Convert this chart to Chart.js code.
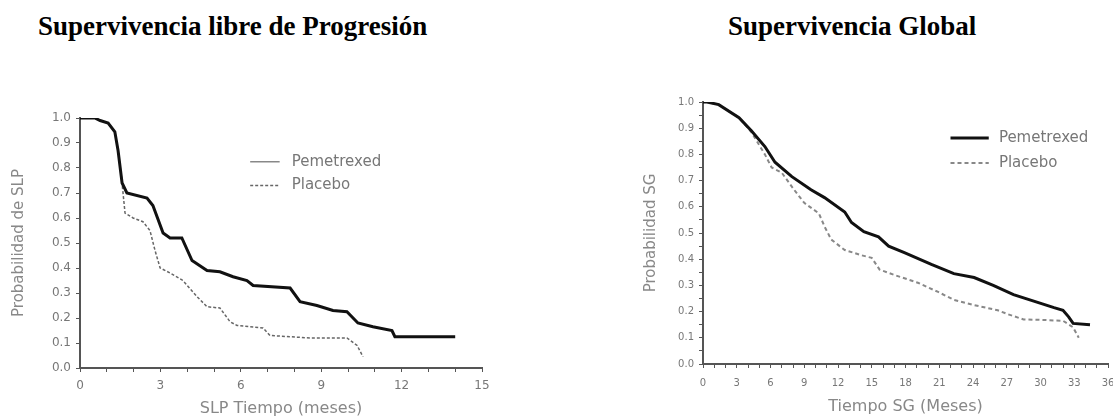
<!DOCTYPE html>
<html>
<head>
<meta charset="utf-8">
<script src="https://cdn.jsdelivr.net/npm/chart.js@4"></script>
<style>
  body { margin: 0; width: 1113px; height: 419px; background: #fff; position: relative; overflow: hidden; }
  .title { position: absolute; font-family: "Liberation Serif", "Times New Roman", serif; font-weight: bold;
           font-size: 27px; line-height: 27px; color: #000; white-space: nowrap; }
  canvas { position: absolute; }
</style>
</head>
<body>
<div class="title" style="left:38px; top:13px;">Supervivencia libre de Progresión</div>
<div class="title" style="left:728px; top:13px;">Supervivencia Global</div>
<canvas id="pfsChart" width="492" height="329" style="left:8px; top:90px;"></canvas>
<canvas id="osChart" width="473" height="339" style="left:640px; top:80px;"></canvas>
<script>
  // Supervivencia libre de progresion (meses, probabilidad)
  const pfsPemTime = [0, 0.55, 0.75, 1.05, 1.3, 1.42, 1.57, 1.75, 2.5, 2.72, 3.1, 3.36, 3.8, 4.18, 4.74, 5.22, 5.71, 6.23, 6.46, 7.84, 8.21, 8.84, 9.44, 9.96, 10.37, 10.93, 11.64, 11.75, 14.0];
  const pfsPem = [1.0, 1.0, 0.99, 0.98, 0.945, 0.87, 0.74, 0.70, 0.68, 0.65, 0.54, 0.52, 0.52, 0.43, 0.39, 0.385, 0.365, 0.35, 0.33, 0.32, 0.265, 0.25, 0.23, 0.225, 0.18, 0.165, 0.15, 0.125, 0.125];
  const pfsPlaTime = [0, 0.55, 0.75, 1.05, 1.3, 1.42, 1.55, 1.68, 1.98, 2.35, 2.61, 2.8, 2.99, 3.36, 3.84, 4.37, 4.74, 5.22, 5.6, 5.86, 6.83, 7.09, 8.58, 9.96, 10.34, 10.56];
  const pfsPla = [1.0, 1.0, 0.99, 0.98, 0.945, 0.87, 0.76, 0.62, 0.60, 0.585, 0.55, 0.47, 0.40, 0.38, 0.35, 0.285, 0.245, 0.24, 0.185, 0.17, 0.16, 0.13, 0.12, 0.12, 0.09, 0.045];

  // Supervivencia global
  const osPemTime = [0, 0.35, 1.4, 3.2, 4.3, 5.5, 6.4, 7.9, 9.6, 10.8, 12.6, 13.2, 14.3, 15.6, 16.5, 17.9, 20.3, 22.3, 24.1, 25.8, 27.6, 29.4, 31.2, 32.0, 32.5, 32.9, 34.4];
  const osPem = [1.0, 1.0, 0.99, 0.94, 0.89, 0.83, 0.77, 0.715, 0.665, 0.635, 0.58, 0.54, 0.505, 0.485, 0.45, 0.425, 0.38, 0.345, 0.33, 0.30, 0.265, 0.24, 0.215, 0.205, 0.18, 0.155, 0.15];
  const osPlaTime = [0, 0.35, 1.4, 3.2, 4.3, 5.5, 6.1, 7.0, 8.1, 9.0, 10.3, 10.8, 11.4, 12.6, 14.1, 15.0, 15.7, 17.0, 19.1, 20.9, 22.3, 24.1, 26.2, 27.1, 28.5, 30.3, 32.0, 32.9, 33.4];
  const osPla = [1.0, 1.0, 0.99, 0.94, 0.885, 0.80, 0.75, 0.73, 0.665, 0.615, 0.575, 0.525, 0.475, 0.435, 0.415, 0.405, 0.36, 0.34, 0.31, 0.275, 0.245, 0.225, 0.205, 0.19, 0.17, 0.168, 0.165, 0.14, 0.10];

  const seriesLabels = ['Pemetrexed', 'Placebo'];

  const toPoints = (xs, ys) => xs.map((x, i) => ({ x: x, y: ys[i] }));

  // legend drawn inside the plot area, placed with the chart's own scales
  const kmLegend = {
    id: 'kmLegend',
    afterDraw(chart, args, opts) {
      const ctx = chart.ctx;
      const xs = chart.scales.x, ys = chart.scales.y;
      const x0 = xs.getPixelForValue(opts.from), x1 = xs.getPixelForValue(opts.to);
      const tx = xs.getPixelForValue(opts.textAt);
      ctx.save();
      opts.rows.forEach((row, i) => {
        const y = ys.getPixelForValue(row.at);
        const ds = chart.data.datasets[i];
        ctx.beginPath();
        ctx.strokeStyle = row.color || ds.borderColor;
        ctx.lineWidth = row.width || ds.borderWidth;
        ctx.setLineDash(ds.borderDash || []);
        ctx.moveTo(x0, y);
        ctx.lineTo(x1, y);
        ctx.stroke();
        ctx.setLineDash([]);
        ctx.fillStyle = '#777';
        ctx.font = opts.font;
        ctx.textBaseline = 'middle';
        ctx.fillText(ds.label, tx, y);
      });
      ctx.restore();
    }
  };

  function makeChart(canvasId, cfg) {
    const ctx = document.getElementById(canvasId).getContext('2d');
    return new Chart(ctx, {
      type: 'line',
      data: {
        datasets: [
          {
            label: seriesLabels[0],
            data: toPoints(cfg.pemTime, cfg.pem),
            borderColor: '#111',
            borderWidth: 3,
            pointRadius: 0,
            tension: 0
          },
          {
            label: seriesLabels[1],
            data: toPoints(cfg.plaTime, cfg.pla),
            borderColor: cfg.plaColor,
            borderWidth: cfg.plaWidth,
            borderDash: cfg.plaDash,
            pointRadius: 0,
            tension: 0
          }
        ]
      },
      options: {
        responsive: false,
        animation: false,
        layout: { padding: cfg.padding },
        plugins: {
          legend: { display: false },
          tooltip: { enabled: false },
          kmLegend: cfg.legend
        },
        scales: {
          x: {
            type: 'linear',
            min: 0,
            max: cfg.xMax,
            border: { display: true, color: '#555', width: 2 },
            grid: { drawOnChartArea: false, drawTicks: true, tickLength: 4, color: '#555' },
            ticks: {
              stepSize: 1,
              autoSkip: false,
              maxRotation: 0,
              padding: cfg.xTickPad,
              color: '#777',
              font: { family: 'DejaVu Sans', size: cfg.xTickSize },
              callback: v => (v % 3 === 0 ? String(v) : '')
            },
            title: {
              display: true,
              text: cfg.xTitle,
              color: '#888',
              font: { family: 'DejaVu Sans', size: 16 },
              padding: { top: 0, bottom: cfg.xTitlePad }
            },
            afterFit(scale) {
              scale.height = cfg.xHeight;
              scale.paddingLeft = 0;
              scale.paddingRight = 0;
            }
          },
          y: {
            min: 0,
            max: 1,
            border: { display: true, color: '#555', width: 2 },
            grid: { drawOnChartArea: false, drawTicks: true, tickLength: 4, color: '#555' },
            ticks: {
              stepSize: cfg.yStep,
              autoSkip: false,
              padding: 5,
              color: '#777',
              font: { family: 'DejaVu Sans', size: cfg.yTickSize },
              callback: v => (Math.round(v * 100) % 10 === 0 ? v.toFixed(1) : '')
            },
            title: {
              display: true,
              text: cfg.yTitle,
              color: '#888',
              font: { family: 'DejaVu Sans', size: 15 },
              padding: { top: 2, bottom: 0 }
            },
            afterFit(scale) {
              scale.width = cfg.yWidth;
              scale.paddingTop = 0;
              scale.paddingBottom = 0;
            }
          }
        }
      },
      plugins: [kmLegend]
    });
  }

  makeChart('pfsChart', {
    pemTime: pfsPemTime, pem: pfsPem, plaTime: pfsPlaTime, pla: pfsPla,
    plaColor: '#666', plaWidth: 1.5, plaDash: [3, 2],
    xMax: 15, xTitle: 'SLP Tiempo (meses)', yTitle: 'Probabilidad de SLP',
    yStep: 0.1, xTickSize: 12, yTickSize: 12, xTickPad: 7, xTitlePad: 1,
    xHeight: 51, yWidth: 72,
    padding: { left: 0, top: 28, right: 18, bottom: 0 },
    legend: {
      from: 6.35, to: 7.45, textAt: 7.9, font: '15px "DejaVu Sans"',
      rows: [{ at: 0.825, color: '#888', width: 1.5 }, { at: 0.73 }]
    }
  });

  makeChart('osChart', {
    pemTime: osPemTime, pem: osPem, plaTime: osPlaTime, pla: osPla,
    plaColor: '#888', plaWidth: 2, plaDash: [4, 3],
    xMax: 36, xTitle: 'Tiempo SG (Meses)', yTitle: 'Probabilidad SG',
    yStep: 0.05, xTickSize: 10, yTickSize: 10, xTickPad: 9, xTitlePad: 3,
    xHeight: 55, yWidth: 63,
    padding: { left: 0, top: 22, right: 5, bottom: 0 },
    legend: {
      from: 22.0, to: 25.4, textAt: 26.3, font: '15px "DejaVu Sans"',
      rows: [{ at: 0.863 }, { at: 0.767 }]
    }
  });
</script>
</body>
</html>
